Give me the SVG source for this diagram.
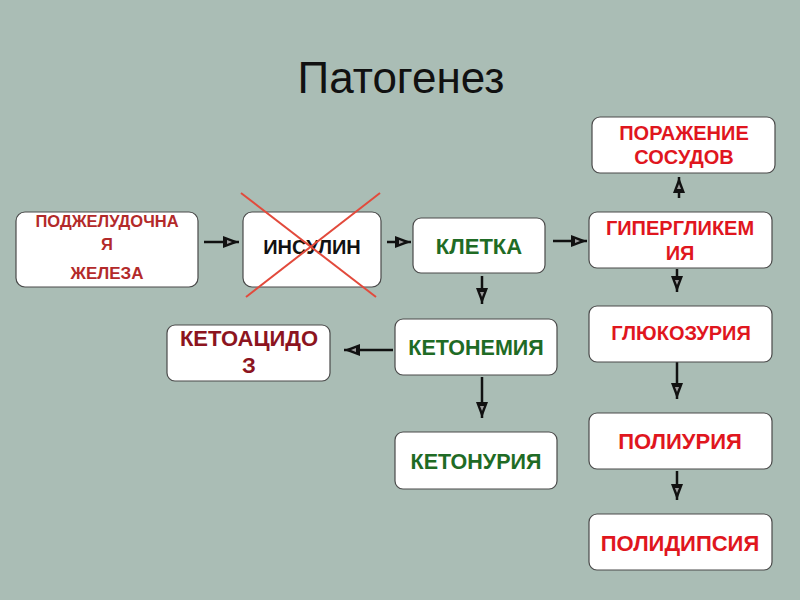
<svg xmlns="http://www.w3.org/2000/svg" width="800" height="600" viewBox="0 0 800 600">
<defs>
<marker id="ah" viewBox="0 0 16 12" refX="16" refY="6" markerWidth="16" markerHeight="12" markerUnits="userSpaceOnUse" orient="auto">
<path d="M0,0 L16,6 L0,12 Z" fill="#111"/>
<path d="M4,4 L9,6 L4,8 Z" fill="#9a9a9a"/>
</marker>
<style>
.box{fill:#fff;stroke:#4a4a4a;stroke-width:1.2}
.t{font-family:"Liberation Sans",Arial,sans-serif;font-weight:bold;text-anchor:middle}
.red{fill:#e0161e}
.dred{fill:#b32a2a}
.mar{fill:#8c1420}
.grn{fill:#1f6b25}
.blk{fill:#111}
.c{stroke:#111;stroke-width:2.5;fill:none;marker-end:url(#ah)}
</style>
</defs>
<rect width="800" height="600" fill="#aabdb5"/>
<text x="401" y="93" font-family="'Liberation Sans',Arial,sans-serif" font-size="44" text-anchor="middle" fill="#111">Патогенез</text>

<g id="connectors">
<line class="c" x1="204" y1="242" x2="239" y2="242"/>
<line class="c" x1="387" y1="242" x2="411" y2="242"/>
<line class="c" x1="553" y1="241" x2="587" y2="241"/>
<line class="c" x1="482" y1="276" x2="482" y2="304"/>
<line class="c" x1="677" y1="269" x2="677" y2="292"/>
<line class="c" x1="679" y1="198" x2="679" y2="177"/>
<line class="c" x1="393" y1="350" x2="344" y2="350"/>
<line class="c" x1="482" y1="377" x2="482" y2="418"/>
<line class="c" x1="677" y1="362" x2="677" y2="399"/>
<line class="c" x1="677" y1="471" x2="677" y2="500"/>
</g>

<g id="pancreas">
<rect class="box" x="16" y="212" width="182" height="75" rx="9"/>
<text class="t dred" x="107" y="227" font-size="16.5">ПОДЖЕЛУДОЧНА</text>
<text class="t dred" x="107" y="250" font-size="16.5">Я</text>
<text class="t dred" x="107" y="279" font-size="17">ЖЕЛЕЗА</text>
</g>

<g id="insulin">
<rect class="box" x="243" y="212" width="138" height="75" rx="9"/>
<text class="t blk" x="312" y="254" font-size="20" font-weight="normal">ИНСУЛИН</text>
<line x1="241" y1="193" x2="376" y2="297" stroke="#e24a3c" stroke-width="2"/>
<line x1="380" y1="193" x2="246" y2="297" stroke="#e24a3c" stroke-width="2"/>
</g>

<g id="cell">
<rect class="box" x="413" y="218" width="132" height="55" rx="8"/>
<text class="t grn" x="479" y="254" font-size="22">КЛЕТКА</text>
</g>

<g id="hyperglycemia">
<rect class="box" x="589" y="212" width="183" height="56" rx="8"/>
<text class="t red" x="680" y="235" font-size="20">ГИПЕРГЛИКЕМ</text>
<text class="t red" x="680" y="260" font-size="20">ИЯ</text>
</g>

<g id="vessels">
<rect class="box" x="592" y="117" width="183" height="56" rx="8"/>
<text class="t red" x="684" y="140" font-size="20">ПОРАЖЕНИЕ</text>
<text class="t red" x="684" y="164" font-size="20">СОСУДОВ</text>
</g>

<g id="ketonemia">
<rect class="box" x="395" y="319" width="162" height="56" rx="8"/>
<text class="t grn" x="476" y="355" font-size="21.5">КЕТОНЕМИЯ</text>
</g>

<g id="ketoacidosis">
<rect class="box" x="167" y="325" width="163" height="56" rx="8"/>
<text class="t mar" x="249" y="346" font-size="22">КЕТОАЦИДО</text>
<text class="t mar" x="249" y="373" font-size="22">З</text>
</g>

<g id="glucosuria">
<rect class="box" x="589" y="306" width="183" height="56" rx="8"/>
<text class="t red" x="681" y="340" font-size="20">ГЛЮКОЗУРИЯ</text>
</g>

<g id="ketonuria">
<rect class="box" x="395" y="432" width="162" height="57" rx="8"/>
<text class="t grn" x="476" y="469" font-size="21.5">КЕТОНУРИЯ</text>
</g>

<g id="polyuria">
<rect class="box" x="589" y="413" width="183" height="56" rx="8"/>
<text class="t red" x="680" y="449" font-size="22">ПОЛИУРИЯ</text>
</g>

<g id="polydipsia">
<rect class="box" x="589" y="514" width="183" height="56" rx="8"/>
<text class="t red" x="680" y="551" font-size="22">ПОЛИДИПСИЯ</text>
</g>
</svg>
